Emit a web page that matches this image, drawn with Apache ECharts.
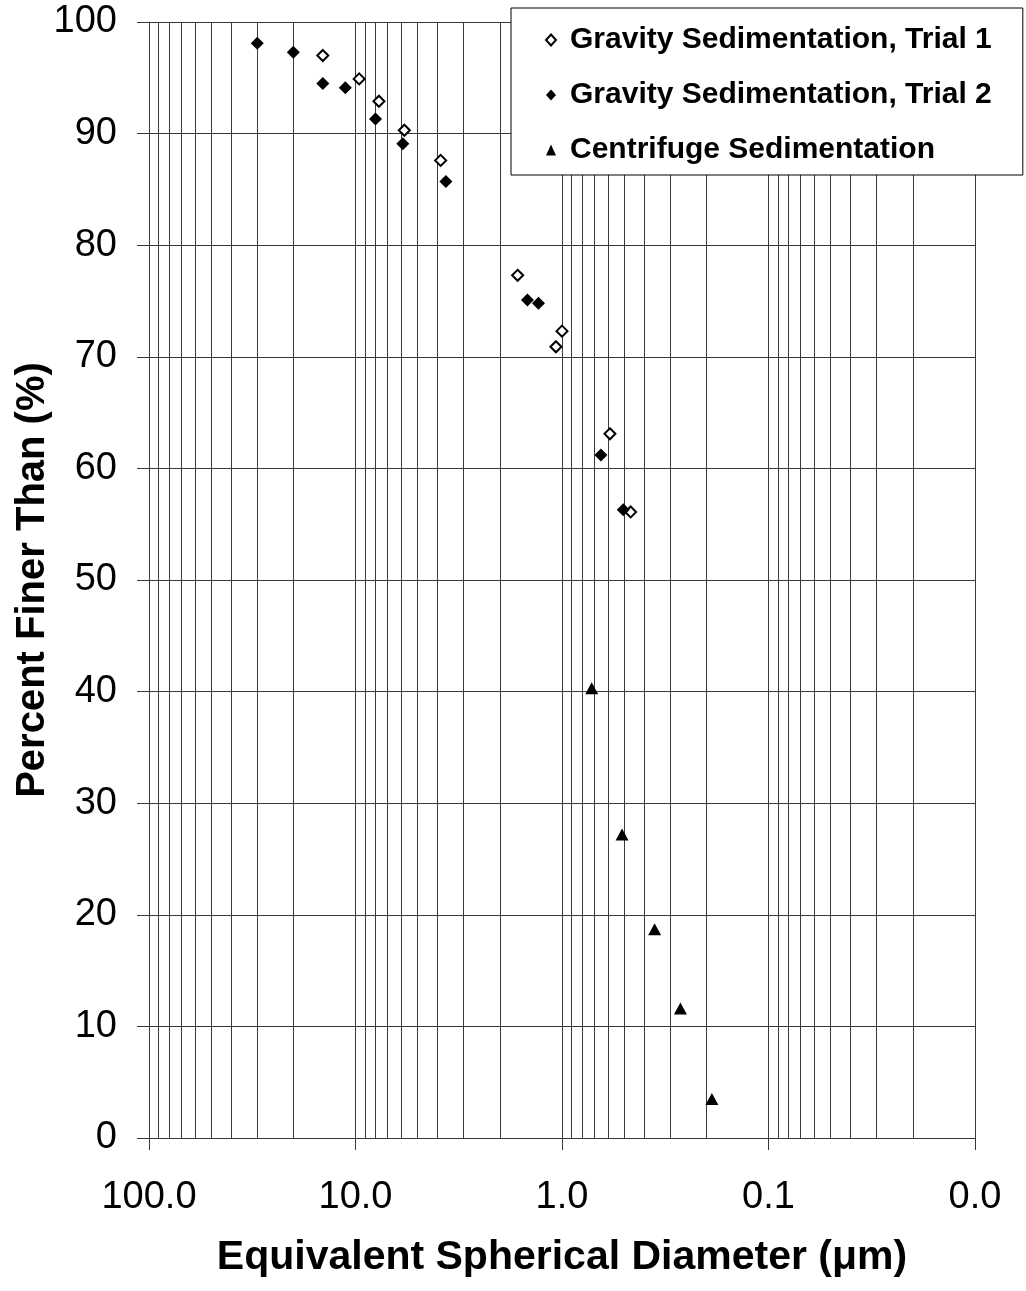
<!DOCTYPE html>
<html>
<head>
<meta charset="utf-8">
<script src="https://cdn.jsdelivr.net/npm/echarts@6/dist/echarts.min.js"></script>
<style>
  html, body { margin: 0; padding: 0; background: #fff; }
  #chart { width: 1026px; height: 1291px; }
</style>
</head>
<body>
<div id="chart"></div>
<script>
// diameters in micrometres, percent finer than
const trial1Diam = [14.4, 9.6, 7.7, 5.8, 3.87, 1.64, 1.0, 1.07, 0.586, 0.465];
const trial1Pct  = [97.0, 94.9, 92.9, 90.3, 87.6, 77.3, 72.3, 70.9, 63.1, 56.1];

const trial2Diam = [29.9, 20.0, 14.4, 11.2, 8.0, 5.9, 3.65, 1.47, 1.30, 0.648, 0.505];
const trial2Pct  = [98.1, 97.3, 94.5, 94.1, 91.3, 89.1, 85.7, 75.1, 74.8, 61.2, 56.3];

const centDiam = [0.718, 0.512, 0.356, 0.267, 0.188];
const centPct  = [40.3, 27.2, 18.7, 11.6, 3.5];

const seriesNames = ['Gravity Sedimentation, Trial 1', 'Gravity Sedimentation, Trial 2', 'Centrifuge Sedimentation'];

// log grid lines between the decades
const decades = [0.01, 0.1, 1, 10];
const minorSteps = [2, 3, 4, 5, 6, 7, 8, 9];

const FONT = '"Liberation Sans", Arial, sans-serif';
const GRID_COLOR = '#3a3a3a';

function pairs(xs, ys) {
	return xs.map((x, i) => [x, ys[i]]);
}

const minorLines = [];
decades.forEach(d => minorSteps.forEach(m => minorLines.push({ xAxis: d * m })));

const chart = echarts.init(document.getElementById('chart'));

const option = {
	backgroundColor: '#fff',
	animation: false,
	textStyle: { fontFamily: FONT, color: '#000' },
	grid: { left: 149, right: 51, top: 22, bottom: 153, outerBoundsMode: 'none', containLabel: false },
	legend: {
		data: [
			{ name: seriesNames[0], icon: 'diamond' },
			{ name: seriesNames[1], icon: 'diamond' },
			{ name: seriesNames[2], icon: 'triangle' }
		],
		orient: 'vertical',
		left: 511,
		top: 8,
		padding: [17, 31, 10, 34],
		itemWidth: 10,
		itemHeight: 11,
		itemGap: 25,
		selectedMode: false,
		backgroundColor: '#fff',
		borderColor: '#000',
		borderWidth: 1,
		borderRadius: 0,
		z: 10,
		textStyle: {
			fontFamily: FONT, fontSize: 30, fontWeight: 'bold', color: '#000',
			lineHeight: 30, padding: [0, 0, 0, 9]
		}
	},
	xAxis: {
		type: 'log',
		logBase: 10,
		min: 0.01,
		max: 100,
		inverse: true,
		splitNumber: 4,
		name: 'Equivalent Spherical Diameter (\u03bcm)',
		nameLocation: 'middle',
		nameGap: 99,
		nameMoveOverlap: false,
		nameTextStyle: { fontFamily: FONT, fontSize: 41, fontWeight: 'bold', color: '#000' },
		axisLine: { show: true, lineStyle: { color: GRID_COLOR, width: 1 } },
		axisTick: { show: true, inside: false, length: 12, lineStyle: { color: GRID_COLOR } },
		axisLabel: {
			fontFamily: FONT, fontSize: 38, color: '#000', margin: 41,
			formatter: v => Number(v).toFixed(1)
		},
		splitLine: { show: true, lineStyle: { color: GRID_COLOR, width: 1 } }
	},
	yAxis: {
		type: 'value',
		min: 0,
		max: 100,
		interval: 10,
		name: 'Percent Finer Than (%)',
		nameLocation: 'middle',
		nameGap: 96,
		nameMoveOverlap: false,
		nameTextStyle: { fontFamily: FONT, fontSize: 40, fontWeight: 'bold', color: '#000' },
		axisLine: { show: true, lineStyle: { color: GRID_COLOR, width: 1 } },
		axisTick: { show: true, inside: false, length: 12, lineStyle: { color: GRID_COLOR } },
		axisLabel: { fontFamily: FONT, fontSize: 38, color: '#000', margin: 32 },
		splitLine: { show: true, lineStyle: { color: GRID_COLOR, width: 1 } }
	},
	series: [
		{
			name: seriesNames[0],
			type: 'scatter',
			z: 3,
			symbol: 'diamond',
			symbolSize: 11,
			itemStyle: { color: '#fff', borderColor: '#000', borderWidth: 2, opacity: 1 },
			data: pairs(trial1Diam, trial1Pct),
			markLine: {
				silent: true,
				z: 1,
				symbol: ['none', 'none'],
				label: { show: false },
				animation: false,
				lineStyle: { color: GRID_COLOR, width: 1, type: 'solid' },
				emphasis: { disabled: true },
				data: minorLines
			}
		},
		{
			name: seriesNames[1],
			type: 'scatter',
			z: 3,
			symbol: 'diamond',
			symbolSize: 13,
			itemStyle: { color: '#000', opacity: 1 },
			data: pairs(trial2Diam, trial2Pct)
		},
		{
			name: seriesNames[2],
			type: 'scatter',
			z: 3,
			symbol: 'triangle',
			symbolSize: [13, 12],
			itemStyle: { color: '#000', opacity: 1 },
			data: pairs(centDiam, centPct)
		}
	]
};

chart.setOption(option);
</script>
</body>
</html>
